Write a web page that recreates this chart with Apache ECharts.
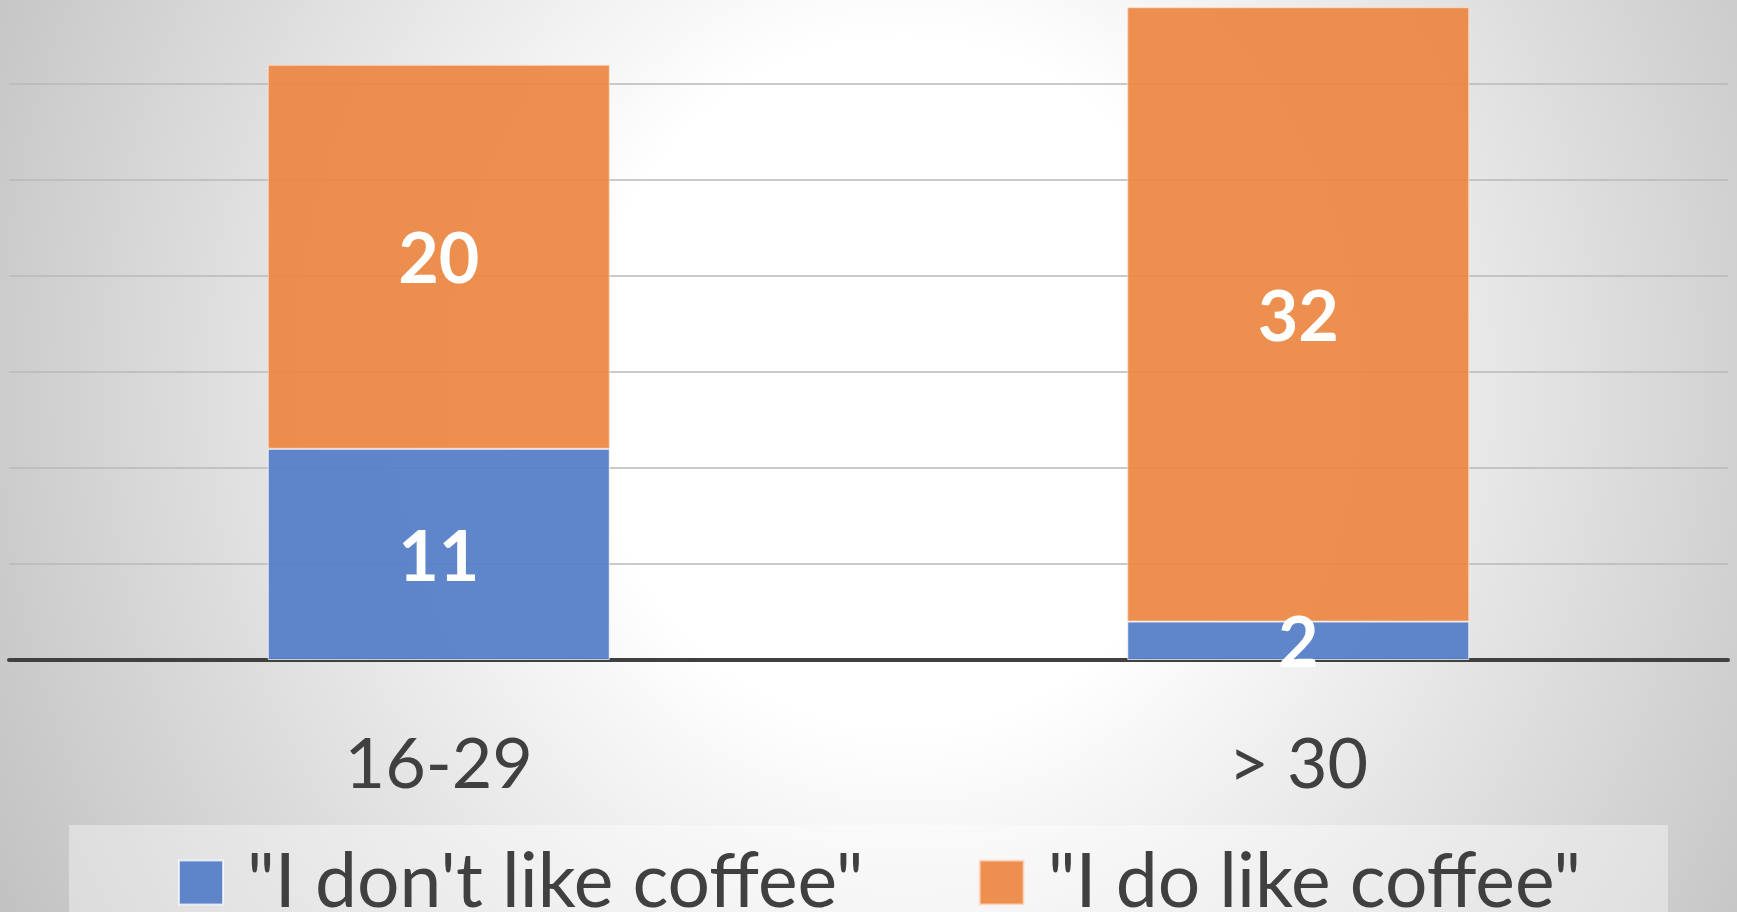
<!DOCTYPE html>
<html>
<head>
<meta charset="utf-8">
<script src="https://cdn.jsdelivr.net/npm/echarts@6/dist/echarts.min.js"></script>
<style>
html,body{margin:0;padding:0;}
#chart{width:1737px;height:912px;background:radial-gradient(ellipse 60% 125% at 52% 42%, #ffffff 0%, #ffffff 30%, #c0c0c0 100%);}
</style>
</head>
<body>
<div id="chart"></div>
<script>
const categories = ['16-29', '> 30'];
const seriesNames = ['"I don\'t like coffee"', '"I do like coffee"'];
const dontLike = [11, 2];
const doLike = [20, 32];
const yMin = 0;
const yMax = 34.375;
const yStep = 5;

const chart = echarts.init(document.getElementById('chart'), null, {renderer: 'canvas'});
const labelStyle = {
  show: true, position: 'inside', color: '#ffffff', offset: [0, 4],
  fontFamily: 'Lato', fontWeight: 'bold', fontSize: 70
};
chart.setOption({
  backgroundColor: 'transparent',
  animation: false,
  grid: {left: 9, right: 9, top: 0, bottom: 252},
  legend: {
    data: seriesNames,
    left: 69, top: 825,
    padding: [20, 87, 40, 109],
    backgroundColor: 'rgba(255,255,255,0.38)',
    itemWidth: 44, itemHeight: 44, itemGap: 115,
    icon: 'rect',
    textStyle: {fontFamily: 'Lato', fontSize: 75, color: '#404040', padding: [0, 0, 0, 19]}
  },
  xAxis: {
    type: 'category', data: categories,
    axisLine: {lineStyle: {color: '#404040', width: 4}},
    axisTick: {show: false},
    axisLabel: {fontFamily: 'Lato', fontSize: 70, color: '#404040', margin: 70}
  },
  yAxis: {
    type: 'value', min: yMin, max: yMax, interval: yStep,
    axisLabel: {show: false}, axisLine: {show: false}, axisTick: {show: false},
    splitLine: {showMaxLine: false, lineStyle: {color: '#b9b9b9', width: 1.5}}
  },
  series: [
    {
      name: seriesNames[0], type: 'bar', stack: 'total', data: dontLike,
      barWidth: 342,
      itemStyle: {color: 'rgba(86,128,200,0.95)', borderColor: 'rgba(255,255,255,0.7)', borderWidth: 1},
      label: labelStyle
    },
    {
      name: seriesNames[1], type: 'bar', stack: 'total', data: doLike,
      barWidth: 342,
      itemStyle: {color: 'rgba(236,134,66,0.93)', borderColor: 'rgba(255,220,200,0.8)', borderWidth: 1},
      label: labelStyle
    }
  ]
});
</script>
</body>
</html>
